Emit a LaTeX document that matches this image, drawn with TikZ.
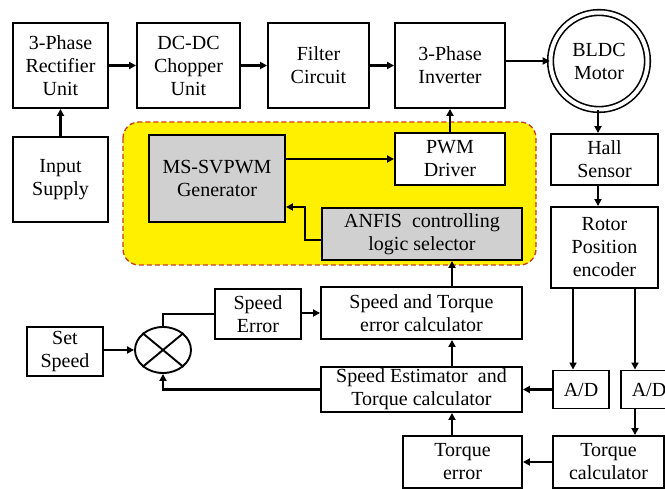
\documentclass[tikz,border=0pt]{standalone}
\usepackage{fontspec}
\setmainfont{Liberation Serif}
\usetikzlibrary{arrows.meta,shapes.geometric}
\definecolor{boxgray}{RGB}{208,208,208}
\definecolor{hlyellow}{RGB}{255,240,0}
\definecolor{dashred}{RGB}{200,60,30}
\begin{document}
\begin{tikzpicture}[x=1pt,y=-1pt,
  box/.style={draw, line width=1.9pt, align=center, inner sep=0pt, fill=white,
              font=\fontsize{20}{23}\selectfont},
  gbox/.style={box, fill=boxgray},
  arr/.style={line width=2.1pt, -{Triangle[length=7pt,width=7pt]}},
  ln/.style={line width=2.1pt}]
\useasboundingbox (0,0) rectangle (665,489);
\fill[white] (0,0) rectangle (665,489);

% highlighted region
\draw[fill=hlyellow, draw=dashred, dash pattern=on 5pt off 3pt, line width=1.3pt, rounded corners=16pt]
  (123,122) rectangle (536,265);

% top row
\node[box, minimum width=95pt, minimum height=85pt] (rect) at (60.5,65.5) {3-Phase\\Rectifier\\Unit};
\node[box, minimum width=103pt, minimum height=85pt] (chop) at (188.5,65.5) {DC-DC\\Chopper\\Unit};
\node[box, minimum width=101pt, minimum height=85pt] (filt) at (318.5,65.5) {Filter\\Circuit};
\node[box, minimum width=110pt, minimum height=85pt] (inv) at (450,65.5) {3-Phase\\Inverter};
\node[circle, draw, double, double distance=4pt, line width=1.6pt, minimum size=97pt,
      inner sep=0pt, align=center, font=\fontsize{20}{23}\selectfont] (motor) at (599,61) {BLDC\\Motor};

\node[box, minimum width=95pt, minimum height=85pt] (input) at (60.5,179.5) {Input\\Supply};

% control blocks in yellow region
\node[gbox, minimum width=136pt, minimum height=87pt] (msv) at (217,178.5) {MS-SVPWM\\Generator};
\node[box, minimum width=110pt, minimum height=52pt] (pwm) at (450,159) {PWM\\Driver};
\node[gbox, minimum width=200pt, minimum height=52pt] (anfis) at (422,234) {ANFIS\enspace controlling\\logic selector};

% sensor side
\node[box, minimum width=107pt, minimum height=51pt] (hall) at (604.5,159.5) {Hall\\Sensor};
\node[box, minimum width=107pt, minimum height=81pt] (rotor) at (604.5,247.5) {Rotor\\Position\\encoder};
\node[box, minimum width=56pt, minimum height=38pt] (ad1) at (581,389.5) {A/D};
\node[box, minimum width=56pt, minimum height=38pt] (ad2) at (649,389.5) {A/D};
\node[box, minimum width=111pt, minimum height=52pt] (tc) at (608.5,462) {Torque\\calculator};

% lower control chain
\node[box, minimum width=201pt, minimum height=52pt] (stc) at (421.5,313) {Speed and Torque\\error calculator};
\node[box, minimum width=201pt, minimum height=45pt] (est) at (421.5,389.5) {Speed Estimator\enspace and\\Torque calculator};
\node[box, minimum width=119pt, minimum height=52pt] (te) at (462.5,462) {Torque\\error};
\node[box, minimum width=86pt, minimum height=50pt] (se) at (258,314) {Speed\\Error};
\node[box, minimum width=76pt, minimum height=49pt] (set) at (65,351.5) {Set\\Speed};
\node[draw, ellipse, line width=1.9pt, minimum width=56pt, minimum height=46pt, inner sep=0pt] (sum) at (163,350) {};
\draw[line width=1.9pt] (sum.north west) -- (sum.south east);
\draw[line width=1.9pt] (sum.north east) -- (sum.south west);

% helper coordinates
\coordinate (xa) at (452,0);
\coordinate (xb) at (573,0);
\coordinate (xc) at (635,0);
\coordinate (xm) at (598,0);
\coordinate (k1) at (305,240);
\coordinate (k2) at (305,207);

% power path
\draw[arr] (rect) -- (chop);
\draw[arr] (chop) -- (filt);
\draw[arr] (filt) -- (inv);
\draw[arr] (inv.east |- motor.west) -- (motor.west);
\draw[arr] (input) -- (rect);

% control
\draw[arr] (msv.east |- pwm.west) -- (pwm.west);
\draw[arr] (pwm) -- (inv);
\draw[arr] (anfis.west |- k1) -- (k1) -- (k2) -- (msv.east |- k2);
\draw[arr] (stc.north -| xa) -- (anfis.south -| xa);
\draw[arr] (se.east |- stc.west) -- (stc.west);
\draw[ln] (sum.north) |- (se.west);
\draw[arr] (set.east |- sum.west) -- (sum.west);
\draw[arr] (est.west) -| (sum.south);
\draw[arr] (est.north -| xa) -- (stc.south -| xa);
\draw[arr] (te.north -| xa) -- (est.south -| xa);
\draw[arr] (tc.west) -- (te.east);
\draw[arr] (ad1.west) -- (est.east);
\draw[arr] (ad2.south -| xc) -- (tc.north -| xc);

% sensing
\draw[arr] (motor.south -| xm) -- (hall.north -| xm);
\draw[arr] (hall.south -| xm) -- (rotor.north -| xm);
\draw[arr] (rotor.south -| xb) -- (ad1.north -| xb);
\draw[arr] (rotor.south -| xc) -- (ad2.north -| xc);
\end{tikzpicture}
\end{document}
